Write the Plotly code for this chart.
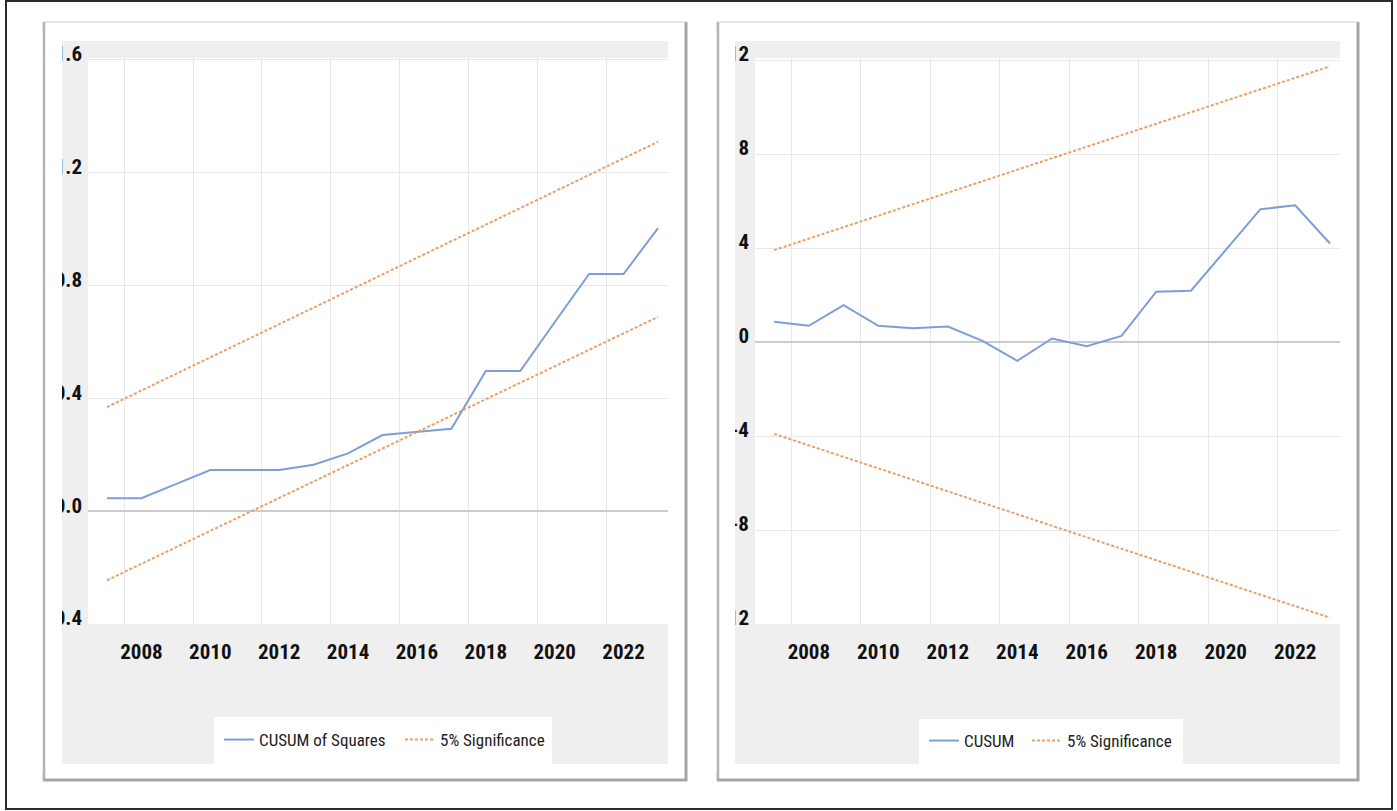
import plotly.graph_objects as go

W, H = 1397, 811

# ---- data -------------------------------------------------------------
years = list(range(2007, 2024))

cusum_sq = [0.046, 0.046, 0.096, 0.146, 0.146, 0.146, 0.165, 0.205, 0.270,
            0.280, 0.292, 0.497, 0.497, 0.670, 0.841, 0.841, 1.004]
band_years = [2007, 2023]
cusum_sq_upper = [0.369, 1.310]
cusum_sq_lower = [-0.245, 0.689]

cusum = [0.86, 0.69, 1.57, 0.69, 0.59, 0.66, 0.05, -0.80, 0.15,
         -0.18, 0.26, 2.14, 2.18, 3.90, 5.65, 5.82, 4.19]
cusum_upper = [3.91, 11.73]
cusum_lower = [-3.91, -11.73]

x_tick_years = [2008, 2010, 2012, 2014, 2016, 2018, 2020, 2022]
x_tick_labels = [str(y) for y in x_tick_years]
x_grid_years = [2007.5, 2009.5, 2011.5, 2013.5, 2015.5, 2017.5, 2019.5, 2021.5]

sq_y_ticks = [-0.4, 0.0, 0.4, 0.8, 1.2, 1.6]
sq_y_labels = ["-0.4", "0.0", "0.4", "0.8", "1.2", "1.6"]
cs_y_ticks = [-12, -8, -4, 0, 4, 8, 12]
cs_y_labels = ["-12", "-8", "-4", "0", "4", "8", "12"]

# ---- styling ------------------------------------------------------------
BLUE = "#7b9fd6"
ORANGE = "#ef9d66"
GRID = "#e8e8e8"
PANEL_GRAY = "#efefef"
NARROW = ("Roboto Condensed, Open Sans Condensed, Noto Sans Condensed, "
          "Liberation Sans Narrow, DejaVu Sans Condensed, sans-serif")


def fx(px):
    return px / W


def fy(py):
    return 1 - py / H


fig = go.Figure()

# left panel: CUSUM of squares
fig.add_trace(go.Scatter(x=years, y=cusum_sq, mode="lines", name="CUSUM of Squares",
                         line=dict(color=BLUE, width=2), xaxis="x", yaxis="y",
                         legend="legend"))
fig.add_trace(go.Scatter(x=band_years, y=cusum_sq_upper, mode="lines", name="5% Significance",
                         line=dict(color=ORANGE, width=2, dash="3px,2px"),
                         xaxis="x", yaxis="y", legend="legend"))
fig.add_trace(go.Scatter(x=band_years, y=cusum_sq_lower, mode="lines", name="5% Significance",
                         line=dict(color=ORANGE, width=2, dash="3px,2px"),
                         xaxis="x", yaxis="y", legend="legend", showlegend=False))

# right panel: CUSUM
fig.add_trace(go.Scatter(x=years, y=cusum, mode="lines", name="CUSUM",
                         line=dict(color=BLUE, width=2), xaxis="x2", yaxis="y2",
                         legend="legend2"))
fig.add_trace(go.Scatter(x=band_years, y=cusum_upper, mode="lines", name="5% Significance",
                         line=dict(color=ORANGE, width=2, dash="3px,2px"),
                         xaxis="x2", yaxis="y2", legend="legend3"))
fig.add_trace(go.Scatter(x=band_years, y=cusum_lower, mode="lines", name="5% Significance",
                         line=dict(color=ORANGE, width=2, dash="3px,2px"),
                         xaxis="x2", yaxis="y2", legend="legend3", showlegend=False))

tick_font = dict(family=NARROW, size=21, color="#111111", weight="bold")

x_common = dict(range=[2006.45, 2023.29], tickmode="array", tickvals=x_tick_years,
                ticktext=x_tick_labels, showgrid=False, zeroline=False, showline=False,
                ticks="", tickfont=tick_font, ticklabelstandoff=13,
                minor=dict(tickmode="array", tickvals=x_grid_years, showgrid=True,
                           gridcolor=GRID, gridwidth=1, ticks=""))
y_common = dict(tickmode="array", showgrid=True, gridcolor=GRID, gridwidth=1,
                zeroline=True, zerolinecolor="#cccccc", zerolinewidth=1.5,
                showline=False, ticks="", tickfont=tick_font, ticklabelshift=-6,
                ticklabelstandoff=5)

y_dom = [fy(624), fy(58)]
legend_font = dict(family=NARROW, size=17, color="#222222")
legend_common = dict(orientation="h", xanchor="left", yanchor="middle",
                     bgcolor="rgba(0,0,0,0)", font=legend_font, itemwidth=30)

fig.update_layout(
    width=W, height=H,
    margin=dict(l=0, r=0, t=0, b=0, autoexpand=False),
    paper_bgcolor="white", plot_bgcolor="white",
    xaxis=dict(domain=[fx(88), fx(668)], anchor="y", **x_common),
    yaxis=dict(domain=y_dom, anchor="x", range=[-0.4, 1.607], tickvals=sq_y_ticks,
               ticktext=sq_y_labels, **y_common),
    xaxis2=dict(domain=[fx(755), fx(1340)], anchor="y2", **x_common),
    yaxis2=dict(domain=y_dom, anchor="x2", range=[-12, 12.085], tickvals=cs_y_ticks,
                ticktext=cs_y_labels, **y_common),
    legend=dict(x=fx(219), y=fy(740), entrywidth=136, **legend_common),
    legend2=dict(x=fx(924), y=fy(741), **legend_common),
    legend3=dict(x=fx(1027), y=fy(741), **legend_common),
    showlegend=True,
)

shapes = []


def rect(x0, y0, x1, y1, fill=None, line_color=None, line_width=0, layer="below"):
    shapes.append(dict(type="rect", xref="paper", yref="paper",
                       x0=fx(x0), x1=fx(x1), y0=fy(y1), y1=fy(y0),
                       fillcolor=fill if fill else "rgba(0,0,0,0)",
                       line=dict(color=line_color if line_color else "rgba(0,0,0,0)",
                                 width=line_width),
                       layer=layer))


def seg(x0, y0, x1, y1, color, width, layer="below"):
    shapes.append(dict(type="line", xref="paper", yref="paper",
                       x0=fx(x0), x1=fx(x1), y0=fy(y0), y1=fy(y1),
                       line=dict(color=color, width=width), layer=layer))


# panel cards, grey chart areas, white plot areas and legend boxes
for card, area, plot, leg in [
    ((43, 22, 686, 780), (62, 41, 668, 764), (88, 58, 668, 624), (214, 717, 552, 764)),
    ((717, 22, 1358, 780), (735, 41, 1340, 764), (755, 58, 1340, 624), (919, 719, 1183, 764)),
]:
    rect(*card, fill="white", line_color="#d6d6d6", line_width=1)
    rect(*area, fill=PANEL_GRAY)
    rect(*plot, fill="white")
    rect(*leg, fill="white")

# strips left of each grey chart area hide the overflow of the value labels
for cx0, cx1 in [(8, 62), (690, 735)]:
    rect(cx0, 30, cx1, 772, fill="white", layer="above")
# card edges and drop shadows
for x0, x1 in [(43, 686), (717, 1358)]:
    seg(x0 + 1, 22, x0 + 1, 780, "#b4b4b4", 2.5, layer="above")
    seg(x1, 22, x1, 781, "#a6a6a6", 3, layer="above")
    seg(x0, 780, x1 + 1, 780, "#a6a6a6", 3, layer="above")
    seg(x0, 22, x1, 22, "#dedede", 1, layer="above")

# outer frame
rect(6, 1, 1392, 809, line_color="#2b2b2b", line_width=2, layer="above")

fig.update_layout(shapes=shapes)

fig.write_html("out.html")
